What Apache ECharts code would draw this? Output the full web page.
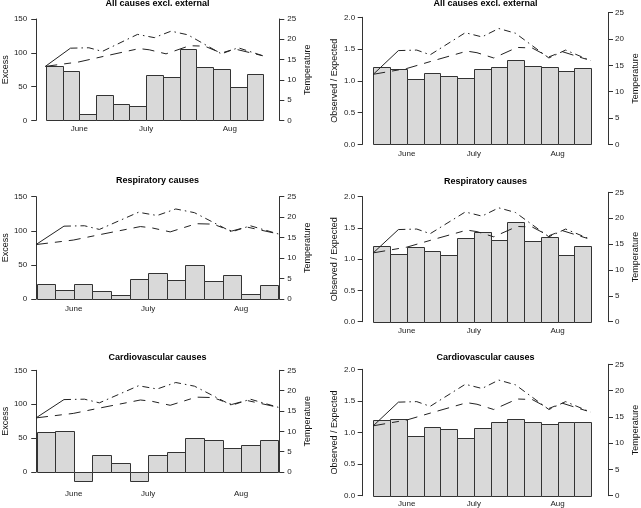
<!DOCTYPE html>
<html><head><meta charset="utf-8">
<script src="https://cdn.jsdelivr.net/npm/echarts@6/dist/echarts.min.js"></script>
<style>html,body{margin:0;padding:0;background:#fff}#c{width:641px;height:508px}</style>
</head><body><div id="c"></div>
<script>
// ---- data ----
const weekStart = [0,1,2,3,4,5,6,7,8,9,10,11,12];
const monthPos = [2, 6, 11];
const monthNames = ['June', 'July', 'Aug'];
const panelTitles = ['All causes excl. external', 'Respiratory causes', 'Cardiovascular causes'];
const excessAll = [80, 73, 9.5, 37, 24.5, 21, 67.5, 64, 105, 79.5, 75.5, 50, 68.5];
const excessResp = [21.5, 12.5, 21.5, 11.5, 6.5, 30, 37.5, 28.5, 50.5, 27, 35.5, 8, 20];
const excessCardio = [58.5, 60, -13.5, 24.5, 14, -13.5, 24.5, 29, 49.5, 47.5, 35, 39.5, 46.5];
const oeAll = [1.21, 1.19, 1.03, 1.12, 1.07, 1.04, 1.19, 1.21, 1.33, 1.23, 1.21, 1.16, 1.20];
const oeResp = [1.21, 1.09, 1.20, 1.13, 1.06, 1.34, 1.44, 1.30, 1.59, 1.29, 1.35, 1.07, 1.21];
const oeCardio = [1.20, 1.22, 0.94, 1.09, 1.05, 0.92, 1.07, 1.16, 1.21, 1.16, 1.13, 1.17, 1.16];
const tmaxX = [0, 1.5, 2.6, 3.4, 5.5, 6.5, 7.5, 8.5, 10.5, 11.5, 13];
const tmaxT = [13.3, 17.8, 17.9, 17.0, 21.2, 20.4, 22.0, 21.1, 16.4, 17.9, 15.9];
const tmeanX = [0, 2, 3.5, 5.6, 6.2, 7.2, 8.6, 9.5, 10.5, 11.3, 13];
const tmeanT = [13.3, 14.4, 15.8, 17.7, 17.4, 16.4, 18.4, 18.3, 16.6, 17.6, 15.9];
const excessTicks = [0, 150, 50];
const oeTicks = [0, 2, 0.5];
const tempTicks = [0, 25, 5];

// ---- layout ----
const FONT = 'Liberation Sans, Arial, Helvetica, sans-serif';
const panels = [
  {vals: excessAll, t: 0, kind: 'ex', xl: 45.3, xr: 263.3, top: 19, zero: 120.3, ttop: 19, offL: 9.6, offR: 16, ty: 3.8, mg: 4, cx: 157.5},
  {vals: oeAll, t: 0, kind: 'oe', xl: 373.3, xr: 591, top: 17.3, zero: 144.3, ttop: 12.7, offL: 10.6, offR: 17.3, ty: 3.8, mg: 5, cx: 485.5},
  {vals: excessResp, t: 1, kind: 'ex', xl: 36, xr: 278.3, top: 196.7, zero: 299, ttop: 196.7, offL: 0.3, offR: 1, ty: 181, mg: 6, cx: 157.5},
  {vals: oeResp, t: 1, kind: 'oe', xl: 373.3, xr: 591, top: 196.7, zero: 321.7, ttop: 192.3, offL: 10.6, offR: 17.3, ty: 182, mg: 5, cx: 485.5},
  {vals: excessCardio, t: 2, kind: 'ex', xl: 36, xr: 278.3, top: 370.3, zero: 472, ttop: 370.3, offL: 0.3, offR: 1, ty: 357.7, mg: 18, cx: 157.5},
  {vals: oeCardio, t: 2, kind: 'oe', xl: 373.3, xr: 591, top: 369.3, zero: 495.7, ttop: 364.3, offL: 10.6, offR: 17.3, ty: 358.3, mg: 4, cx: 485.5}
];

const grid = [], xAxis = [], yAxis = [], series = [], title = [];
const axisCommon = {
  axisLine: {show: true, onZero: false, lineStyle: {color: '#333', width: 1}},
  axisTick: {show: true, length: 5, inside: false, lineStyle: {color: '#333'}},
  splitLine: {show: false},
  nameLocation: 'middle', nameRotate: 90,
  nameTextStyle: {fontSize: 9, color: '#111', fontFamily: FONT}
};

function pairs(xs, ys) { return xs.map((x, i) => [x, ys[i]]); }

panels.forEach((p, k) => {
  const gb = 2 * k, gt = 2 * k + 1;
  grid.push({left: p.xl, width: p.xr - p.xl, top: p.top, height: p.zero - p.top});
  grid.push({left: p.xl, width: p.xr - p.xl, top: p.ttop, height: p.zero - p.ttop});
  xAxis.push({
    gridIndex: gb, type: 'value', min: 0, max: 13, interval: 1,
    axisLine: {show: false, onZero: false}, axisTick: {show: false}, splitLine: {show: false},
    axisLabel: {margin: p.mg, fontSize: 8, color: '#222', fontFamily: FONT,
      formatter: v => { const j = monthPos.indexOf(v); return j >= 0 ? monthNames[j] : ''; }}
  });
  xAxis.push({gridIndex: gt, type: 'value', min: 0, max: 13, show: false, axisLine: {onZero: false}});
  const ticks = p.kind === 'ex' ? excessTicks : oeTicks;
  yAxis.push(Object.assign({}, axisCommon, {
    gridIndex: gb, type: 'value', position: 'left', offset: p.offL,
    min: ticks[0], max: ticks[1], interval: ticks[2],
    name: p.kind === 'ex' ? 'Excess' : 'Observed / Expected',
    nameGap: p.kind === 'ex' ? 26 : 24,
    axisLabel: {fontSize: 8, color: '#222', fontFamily: FONT, margin: p.kind === 'ex' ? 9 : 7.5,
      formatter: v => p.kind === 'ex' ? String(v) : v.toFixed(1)}
  }));
  yAxis.push(Object.assign({}, axisCommon, {
    gridIndex: gt, type: 'value', position: 'right', offset: p.offR,
    min: tempTicks[0], max: tempTicks[1], interval: tempTicks[2],
    name: 'Temperature', nameGap: p.kind === 'ex' ? 24 : 23,
    axisLabel: {fontSize: 8, color: '#222', fontFamily: FONT, margin: p.kind === 'ex' ? 8 : 7}
  }));
  title.push({text: panelTitles[p.t], left: p.cx, top: p.ty - 5, textAlign: 'center', padding: 0,
    textStyle: {fontSize: 9, fontWeight: 'bold', color: '#000', fontFamily: FONT}});

  series.push({
    type: 'custom', xAxisIndex: gb, yAxisIndex: gb, z: 1, clip: false, silent: true,
    data: weekStart.map((w, i) => [w, p.vals[i]]),
    encode: {x: 0, y: 1},
    renderItem: (params, api) => {
      const a = api.coord([api.value(0), api.value(1)]);
      const b = api.coord([api.value(0) + 1, 0]);
      const x0 = Math.round(a[0]) + 0.5, x1 = Math.round(b[0]) + 0.5;
      const y0 = Math.round(Math.min(a[1], b[1])) + 0.5, y1 = Math.round(Math.max(a[1], b[1])) + 0.5;
      return {type: 'rect', shape: {x: x0, y: y0, width: x1 - x0, height: y1 - y0},
        style: {fill: '#d9d9d9', stroke: '#333', lineWidth: 1}};
    }
  });
  const ls = {color: '#222', width: 1};
  series.push({type: 'line', xAxisIndex: gt, yAxisIndex: gt, z: 3, silent: true, showSymbol: false,
    data: pairs(tmaxX.slice(0, 2), tmaxT.slice(0, 2)), lineStyle: Object.assign({type: 'solid'}, ls)});
  series.push({type: 'line', xAxisIndex: gt, yAxisIndex: gt, z: 3, silent: true, showSymbol: false,
    data: pairs(tmaxX.slice(1), tmaxT.slice(1)), lineStyle: Object.assign({type: [7, 4, 1.5, 4]}, ls)});
  series.push({type: 'line', xAxisIndex: gt, yAxisIndex: gt, z: 3, silent: true, showSymbol: false,
    data: pairs(tmeanX, tmeanT), lineStyle: Object.assign({type: [12, 7, 7, 7]}, ls)});
});

const chart = echarts.init(document.getElementById('c'), null, {renderer: 'canvas'});
chart.setOption({
  animation: false,
  backgroundColor: '#fff',
  textStyle: {fontFamily: FONT},
  title, grid, xAxis, yAxis, series
});
</script>
</body></html>
